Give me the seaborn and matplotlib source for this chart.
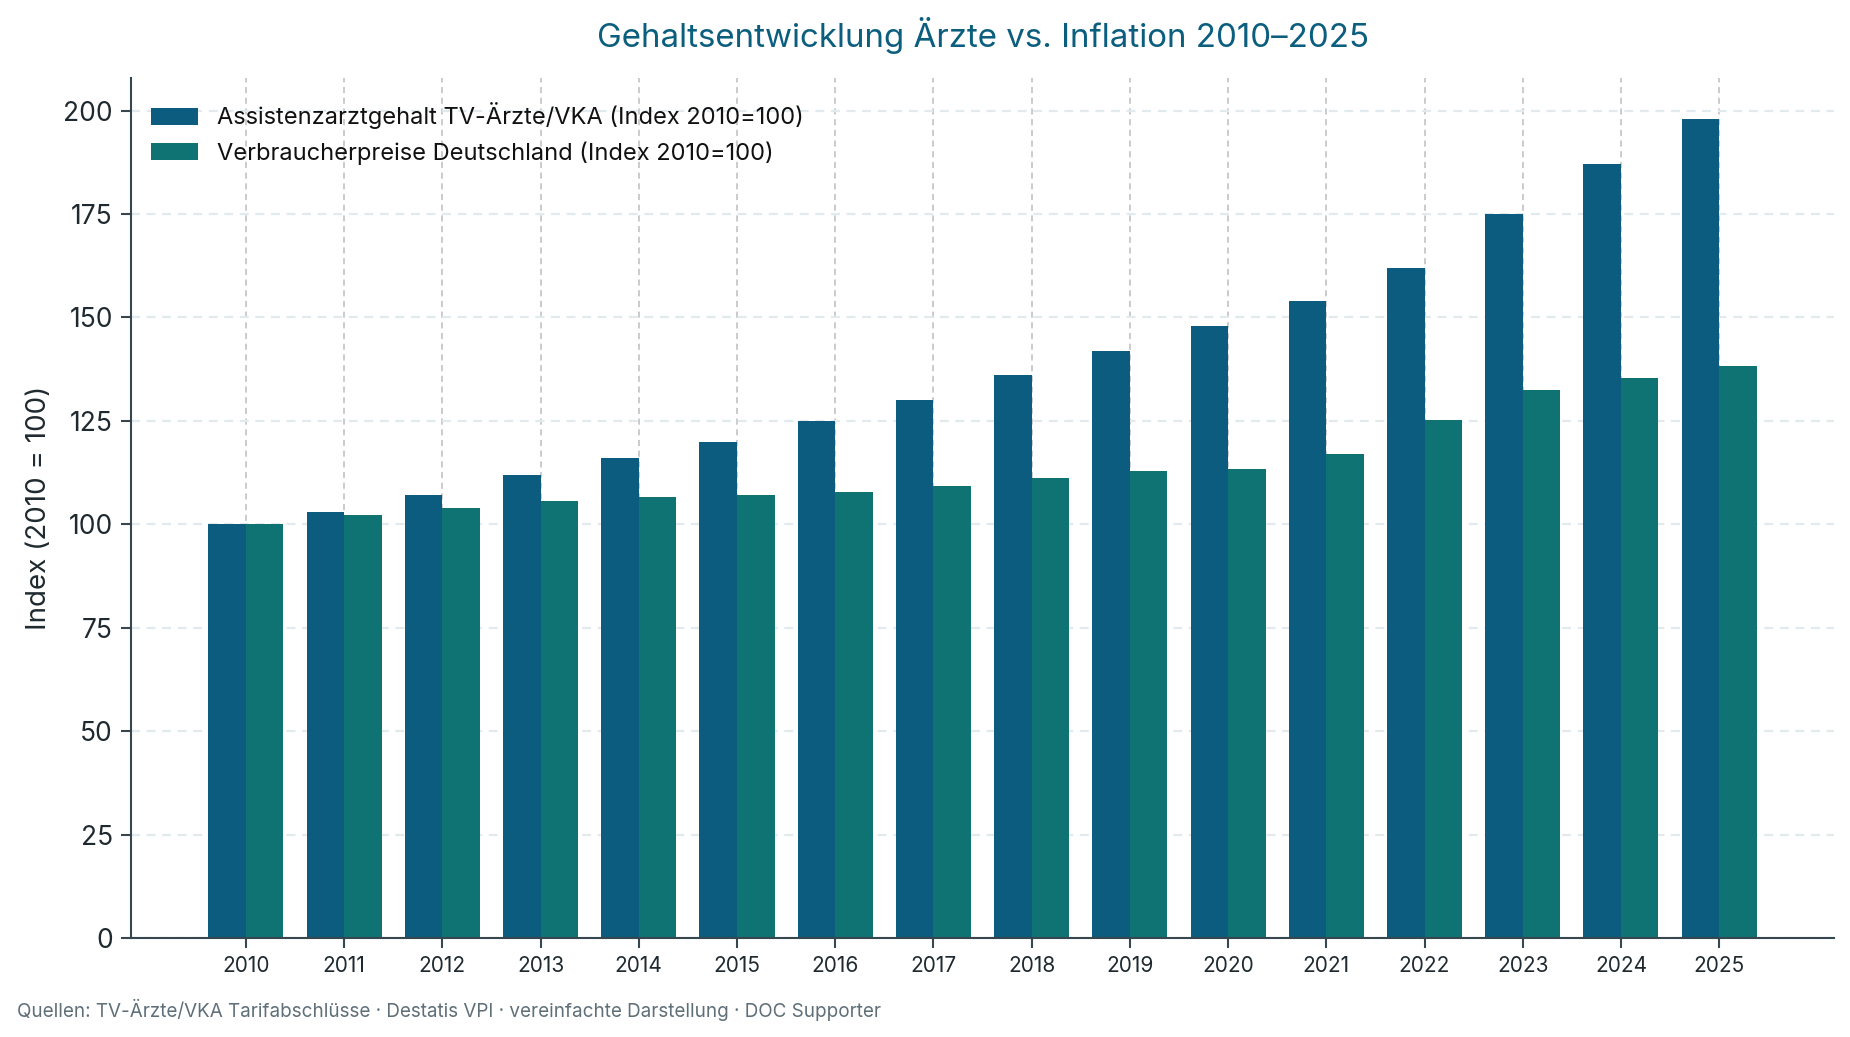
import matplotlib
matplotlib.use("Agg")
import matplotlib.pyplot as plt
import pandas as pd
import seaborn as sns

# Data (index 2010 = 100)
years = [str(y) for y in range(2010, 2026)]
gehalt = [100, 103, 107, 112, 116, 120, 125, 130, 136, 142, 148, 154, 162, 175, 187, 198]
vpi = [100, 102.2, 103.9, 105.6, 106.6, 107.0, 107.7, 109.2, 111.1, 112.9, 113.4, 116.9, 125.2, 132.4, 135.4, 138.3]

label_gehalt = "Assistenzarztgehalt TV-Ärzte/VKA (Index 2010=100)"
label_vpi = "Verbraucherpreise Deutschland (Index 2010=100)"

df = pd.DataFrame({
    "year": years * 2,
    "value": gehalt + vpi,
    "series": [label_gehalt] * len(years) + [label_vpi] * len(years),
})

sns.set_style("white")
plt.rcParams["font.family"] = ["Inter", "DejaVu Sans"]

fig = plt.figure(figsize=(18.5, 10.37), dpi=100)
ax = fig.add_axes([0.0708, 0.0955, 0.9206, 0.8293])

sns.barplot(data=df, x="year", y="value", hue="series", ax=ax,
            palette=["#0b5c7e", "#107373"], width=0.764, saturation=1,
            linewidth=0, edgecolor="none")

# grids (after barplot, seaborn switches off the categorical grid)
ax.set_axisbelow(True)
ax.yaxis.grid(True, linestyle=(0, (4, 3)), color="#e2eaee", linewidth=1.6)
ax.xaxis.grid(True, linestyle=(0, (4, 3)), color="#bdbdbd", linewidth=1.1)

ax.set_xlim(-1.17, 16.17)
ax.set_ylim(0, 207.9)
ax.set_yticks(range(0, 201, 25))

for s in ["top", "right"]:
    ax.spines[s].set_visible(False)
for s in ["left", "bottom"]:
    ax.spines[s].set_color("#37474f")
    ax.spines[s].set_linewidth(1.5)

ax.tick_params(axis="y", labelsize=19, labelcolor="#1f2a30", color="#37474f",
               length=7, width=1.5, left=True, pad=6)
ax.tick_params(axis="x", labelsize=15, labelcolor="#1f2a30", color="#37474f",
               length=7, width=1.5, bottom=True, pad=6)

ax.set_xlabel("")
ax.set_ylabel("Index (2010 = 100)", fontsize=20, color="#1f2a30", labelpad=8)
ax.set_title("Gehaltsentwicklung Ärzte vs. Inflation 2010–2025",
             fontsize=23.8, color="#0b5e7e", pad=22)

ax.legend(title=None, frameon=False, loc="upper left", bbox_to_anchor=(0, 0.995),
          fontsize=17, handlelength=2.0, handleheight=0.72, handletextpad=0.8,
          labelspacing=0.5, borderaxespad=0.45, labelcolor="#111111")

fig.text(0.009, 0.026, "Quellen: TV-Ärzte/VKA Tarifabschlüsse · Destatis VPI · vereinfachte Darstellung · DOC Supporter",
         fontsize=13.6, color="#5f6f78", ha="left", va="center")

fig.savefig("out.png", dpi=100)
